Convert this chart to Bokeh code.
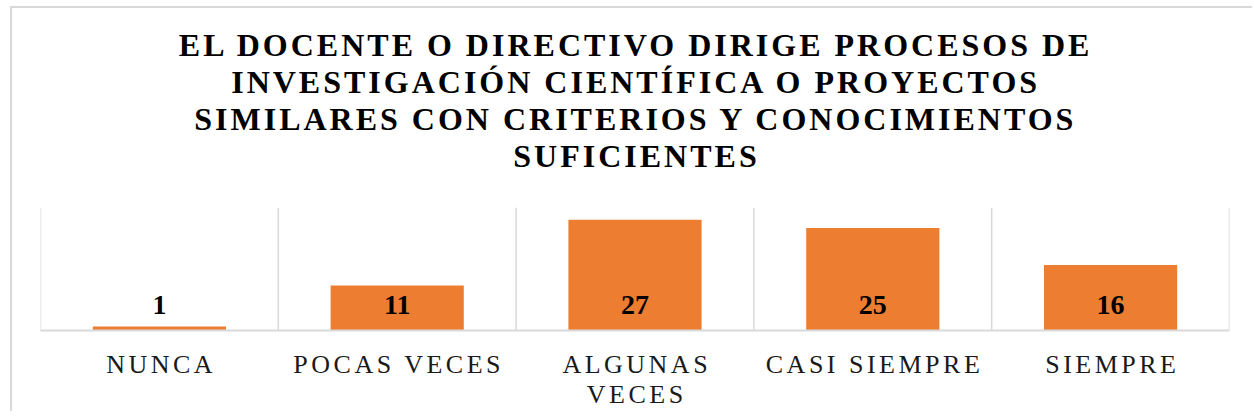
from bokeh.plotting import figure
from bokeh.layouts import column
from bokeh.models import (ColumnDataSource, FactorRange, Range1d, Span, Label, LabelSet)
from bokeh.core.properties import value
from bokeh.embed import file_html
from bokeh.resources import INLINE

categories = ["NUNCA", "POCAS VECES", "ALGUNAS VECES", "CASI SIEMPRE", "SIEMPRE"]
counts = [1, 11, 27, 25, 16]
title_lines = [
    "EL DOCENTE O DIRECTIVO DIRIGE PROCESOS DE",
    "INVESTIGACIÓN CIENTÍFICA O PROYECTOS",
    "SIMILARES CON CRITERIOS Y CONOCIMIENTOS",
    "SUFICIENTES",
]
wrapped_labels = {"ALGUNAS VECES": ["ALGUNAS", "VECES"]}

SERIF = "Liberation Serif"
BAR = "#ED7D31"
GRID = "#d9d9d9"
TITLE_SPACING = 3.0   # px letter spacing of the title
CAT_SPACING = 3.5     # px letter spacing of the category labels

W = 1240
LEFT, RIGHT = 28, 23

# ---------------- title (letter-spaced) ----------------
tfig = figure(x_range=Range1d(0, 1), y_range=Range1d(0, 1), width=W, height=180,
              min_border=0, output_backend="svg", toolbar_location=None,
              styles={"letter-spacing": f"{TITLE_SPACING}px"})
tfig.axis.visible = False
tfig.grid.visible = False
tfig.outline_line_color = None
n = len(title_lines)
for k, line in enumerate(title_lines):
    tfig.add_layout(Label(x=0.5, y=0, y_offset=33 + 37 * (n - 1 - k),
                          x_offset=-TITLE_SPACING * (len(line) - 1) / 2,
                          text=line, text_align="center", text_baseline="alphabetic",
                          text_font=SERIF, text_font_style="bold",
                          text_font_size="32px", text_color="#000000"))

# ---------------- bar chart ----------------
xr = FactorRange(*categories, range_padding=0)
source = ColumnDataSource(dict(cat=categories, n=counts, txt=[str(v) for v in counts]))

p = figure(
    x_range=xr, y_range=Range1d(0, 30),
    width=W, height=148,
    min_border_left=LEFT, min_border_right=RIGHT,
    min_border_top=19, min_border_bottom=6,
    output_backend="svg", toolbar_location=None,
)
p.outline_line_color = None
p.xgrid.visible = False
p.ygrid.visible = False
p.yaxis.visible = False

for i in range(len(categories) + 1):
    p.add_layout(Span(location=i, dimension="height", line_color=GRID, line_width=1.5))

p.vbar(x="cat", top="n", width=0.56, source=source, color=BAR, line_color=None)

p.add_layout(LabelSet(x="cat", y=0, text="txt", source=source, y_offset=17,
                      text_align="center", text_baseline="alphabetic",
                      text_font=value(SERIF), text_font_style="bold",
                      text_font_size="28px", text_color="#000000"))

ax = p.xaxis[0]
ax.axis_line_color = GRID
ax.axis_line_width = 2
ax.major_tick_line_color = None
ax.minor_tick_line_color = None
ax.major_label_text_color = None
ax.major_label_text_font_size = "1px"
ax.major_label_standoff = 0

# ---------------- category labels (letter-spaced) ----------------
line1 = [wrapped_labels.get(c, [c])[0] for c in categories]
sec = [(c, wrapped_labels[c][1]) for c in categories if c in wrapped_labels]
src1 = ColumnDataSource(dict(cat=categories, txt=line1,
                             dx=[-CAT_SPACING * (len(t) - 1) / 2 for t in line1]))
src2 = ColumnDataSource(dict(cat=[c for c, _ in sec], txt=[t for _, t in sec],
                             dx=[-CAT_SPACING * (len(t) - 1) / 2 for _, t in sec]))

lfig = figure(x_range=xr, y_range=Range1d(0, 1), width=W, height=75,
              min_border_left=LEFT, min_border_right=RIGHT,
              min_border_top=0, min_border_bottom=0,
              output_backend="svg", toolbar_location=None,
              styles={"letter-spacing": f"{CAT_SPACING}px"})
lfig.axis.visible = False
lfig.grid.visible = False
lfig.outline_line_color = None
for src, off in ((src1, 39), (src2, 9)):
    lfig.add_layout(LabelSet(x="cat", y=0, text="txt", source=src, x_offset="dx", y_offset=off,
                             text_align="center", text_baseline="alphabetic",
                             text_font=value(SERIF), text_font_size="26px",
                             text_color="#1a1a1a"))

layout = column(tfig, p, lfig, spacing=0,
                styles={"margin-left": "10px", "margin-top": "6px",
                        "border-left": "2px solid #d9d9d9",
                        "border-top": "2px solid #d9d9d9"})

open("out.html", "w").write(file_html(layout, INLINE))
